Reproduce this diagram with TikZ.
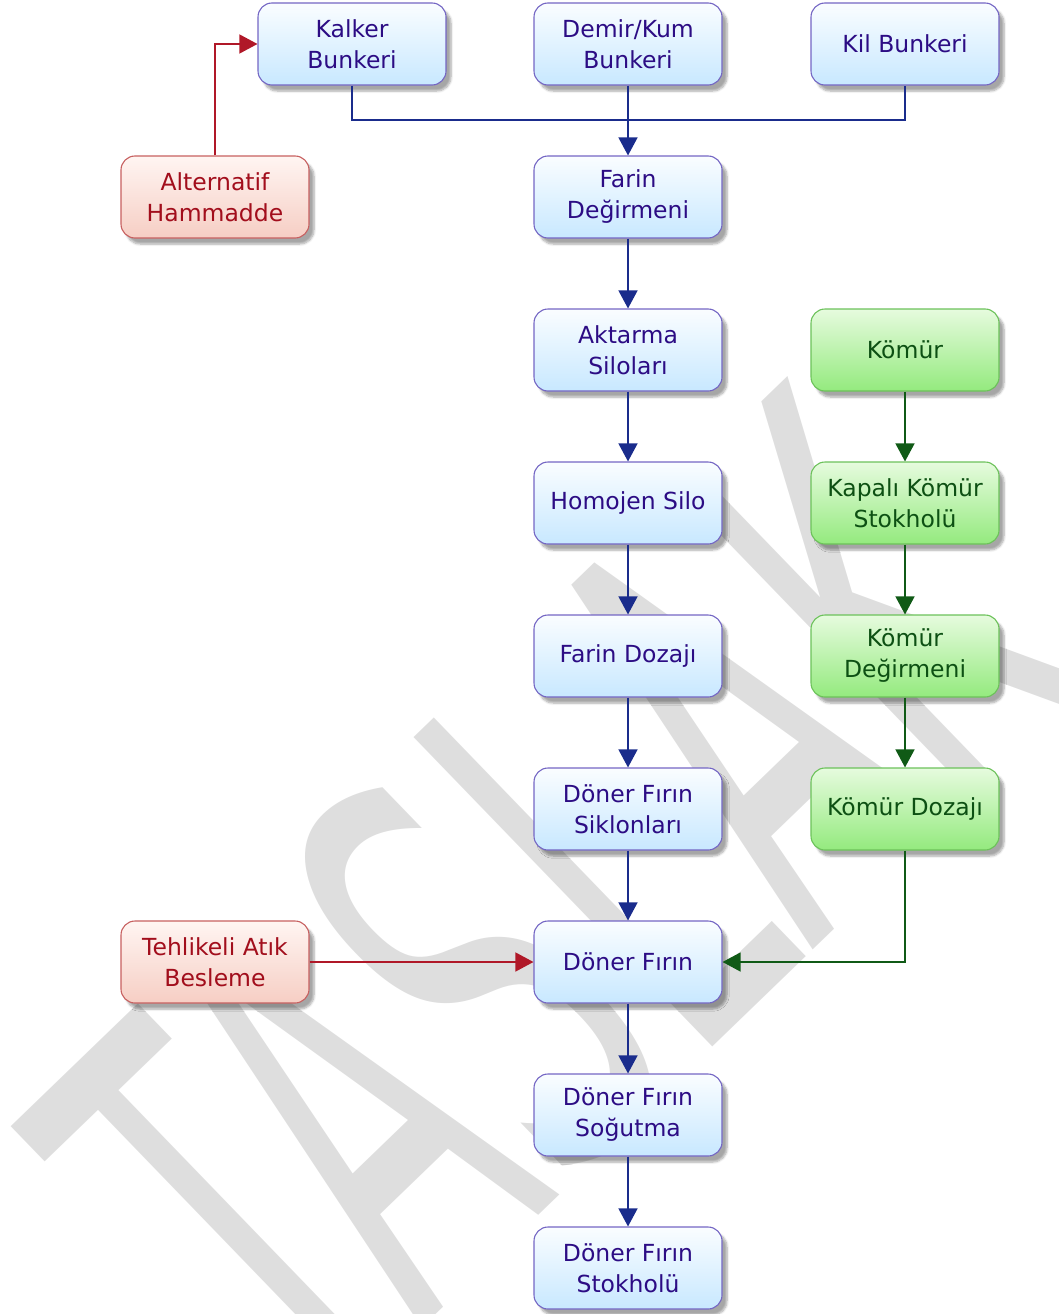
\documentclass[tikz,border=0pt]{standalone}
\usepackage{fontspec}
\setmainfont{DejaVu Sans}
\usepackage{tikz}
\usetikzlibrary{shadows, shadows.blur, positioning, arrows.meta}

\definecolor{bluetop}{HTML}{FAFDFF}
\definecolor{bluebot}{HTML}{C8E8FF}
\definecolor{blueline}{HTML}{7466C4}
\definecolor{bluetxt}{HTML}{2C0C84}
\definecolor{redtop}{HTML}{FFF5F2}
\definecolor{redbot}{HTML}{F6CEC4}
\definecolor{redline}{HTML}{C76060}
\definecolor{redtxt}{HTML}{A20E1C}
\definecolor{greentop}{HTML}{E6FBDE}
\definecolor{greenbot}{HTML}{94EA7E}
\definecolor{greenline}{HTML}{6CC25A}
\definecolor{greentxt}{HTML}{0D5013}
\definecolor{bluecon}{HTML}{1A2C8C}
\definecolor{redcon}{HTML}{B01828}
\definecolor{greencon}{HTML}{105A16}
\definecolor{wmgray}{HTML}{DEDEDE}

\begin{document}
\begin{tikzpicture}[x=1pt, y=-1pt, node distance=153pt,
    box/.style={draw, rounded corners=14pt, line width=1.1pt, minimum width=188pt, minimum height=82pt, align=center, inner sep=2pt, font=\fontsize{23.5}{31}\selectfont, blur shadow={shadow xshift=5pt, shadow yshift=-6pt, shadow blur steps=6, shadow opacity=35}},
    bbox/.style={box, draw=blueline, top color=bluetop, bottom color=bluebot, text=bluetxt},
    rbox/.style={box, draw=redline, top color=redtop, bottom color=redbot, text=redtxt},
    gbox/.style={box, draw=greenline, top color=greentop, bottom color=greenbot, text=greentxt},
    con/.style={line width=1.4pt},
    barrow/.style={con, draw=bluecon, -{Triangle[length=18pt, width=19pt]}},
    rarrow/.style={con, draw=redcon, -{Triangle[length=18pt, width=19pt]}},
    garrow/.style={con, draw=greencon, -{Triangle[length=18pt, width=19pt]}}]

    \useasboundingbox (0,0) rectangle (1058,1314);

    % watermark
    \node[anchor=base west, inner sep=0, rotate=44, xscale=0.486, text=wmgray, font=\fontsize{590}{590}\selectfont] (mark) at (310,1436) {TASLAK};

    % main column
    \node[bbox] at (628,44) (demir) {Demir/Kum\\Bunkeri};
    \node[bbox, below of = demir](farindeg) {Farin\\Değirmeni};
    \node[bbox, below of = farindeg](aktarma) {Aktarma\\Siloları};
    \node[bbox, below of = aktarma](homojen) {Homojen Silo};
    \node[bbox, below of = homojen](dozaj) {Farin Dozajı};
    \node[bbox, below of = dozaj](siklon) {Döner Fırın\\Siklonları};
    \node[bbox, below of = siklon](firin) {Döner Fırın};
    \node[bbox, below of = firin](sogutma) {Döner Fırın\\Soğutma};
    \node[bbox, below of = sogutma](stok) {Döner Fırın\\Stokholü};

    % bunkers
    \node[bbox, left of = demir, node distance=276pt](kalker) {Kalker\\Bunkeri};
    \node[bbox, right of = demir, node distance=277pt](kil) {Kil Bunkeri};

    % side inputs
    \node[rbox, left of = farindeg, node distance=413pt](alt) {Alternatif\\Hammadde};
    \node[rbox, left of = firin, node distance=413pt](tehlike) {Tehlikeli Atık\\Besleme};

    % coal line
    \node[gbox, right of = aktarma, node distance=277pt](komur) {Kömür};
    \node[gbox, below of = komur](kapali) {Kapalı Kömür\\Stokholü};
    \node[gbox, below of = kapali](kdeg) {Kömür\\Değirmeni};
    \node[gbox, below of = kdeg](kdoz) {Kömür Dozajı};

    \coordinate[below of = demir, node distance=76pt] (join);

    \draw[con, draw=bluecon] (kalker.south) |- (join) -| (kil.south);
    \draw[barrow] (demir) -- (farindeg);
    \draw[barrow] (farindeg) -- (aktarma);
    \draw[barrow] (aktarma) -- (homojen);
    \draw[barrow] (homojen) -- (dozaj);
    \draw[barrow] (dozaj) -- (siklon);
    \draw[barrow] (siklon) -- (firin);
    \draw[barrow] (firin) -- (sogutma);
    \draw[barrow] (sogutma) -- (stok);

    \draw[rarrow] (alt.north) |- (kalker.west);
    \draw[rarrow] (tehlike) -- (firin);

    \draw[garrow] (komur) -- (kapali);
    \draw[garrow] (kapali) -- (kdeg);
    \draw[garrow] (kdeg) -- (kdoz);
    \draw[garrow] (kdoz.south) |- (firin.east);

\end{tikzpicture}
\end{document}
